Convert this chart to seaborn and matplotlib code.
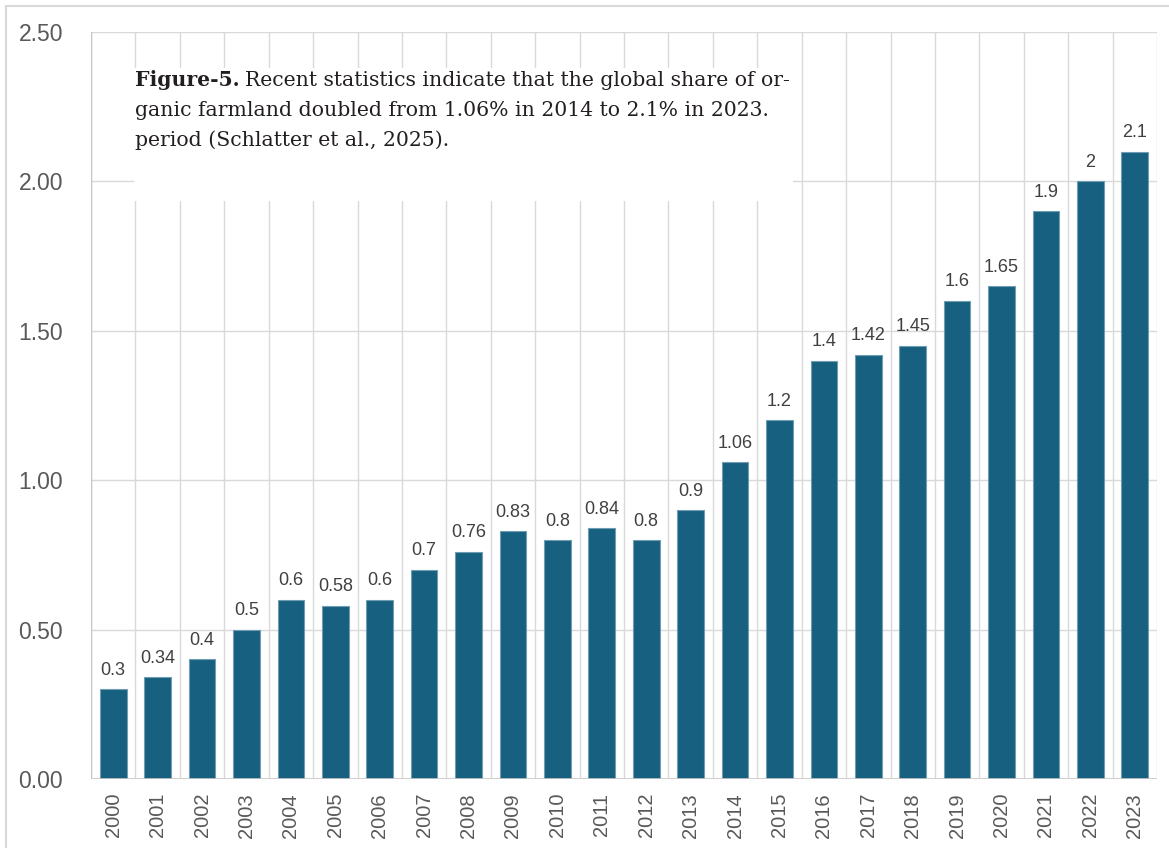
import matplotlib
matplotlib.use("Agg")
import matplotlib.pyplot as plt
import seaborn as sns
import pandas as pd
from matplotlib.lines import Line2D
from matplotlib.patches import Rectangle

years = [str(y) for y in range(2000, 2024)]
values = [0.3, 0.34, 0.4, 0.5, 0.6, 0.58, 0.6, 0.7, 0.76, 0.83, 0.8, 0.84,
          0.8, 0.9, 1.06, 1.2, 1.4, 1.42, 1.45, 1.6, 1.65, 1.9, 2.0, 2.1]
labels = ["0.3", "0.34", "0.4", "0.5", "0.6", "0.58", "0.6", "0.7", "0.76", "0.83",
          "0.8", "0.84", "0.8", "0.9", "1.06", "1.2", "1.4", "1.42", "1.45", "1.6",
          "1.65", "1.9", "2", "2.1"]
yticks = [0.0, 0.5, 1.0, 1.5, 2.0, 2.5]

df = pd.DataFrame({"year": years, "value": values})

sns.set_theme(style="white")
plt.rcParams['font.family'] = ['Liberation Sans', 'DejaVu Sans']

W, H = 1169, 848
fig = plt.figure(figsize=(W / 100, H / 100), dpi=100)
ax = fig.add_axes([91 / W, 1 - 779 / H, (1157 - 91) / W, (779 - 32) / H])

sns.barplot(data=df, x="year", y="value", color="#17607f", saturation=1,
            width=0.6, ax=ax, edgecolor="#6f9db3", linewidth=0.8, zorder=3)

ax.set_ylim(0, 2.5)
ax.set_xlim(-0.5, len(years) - 0.5)
ax.set_yticks(yticks)
ax.set_yticklabels([f"{t:.2f}" for t in yticks], fontsize=16.5, color="#595959")
ax.tick_params(axis="x", labelrotation=90, labelsize=14.5, labelcolor="#595959", length=0, pad=10)
ax.tick_params(axis="y", length=0, pad=20)
ax.set_xlabel("")
ax.set_ylabel("")

# grid
for t in yticks:
    ax.axhline(t, color="#d9d9d9", lw=1.0, zorder=0)
for i in range(len(years) + 1):
    ax.axvline(i - 0.5, color="#d9d9d9", lw=1.0, zorder=0)
for s in ax.spines.values():
    s.set_visible(False)
ax.axhline(0, color="#c8c8c8", lw=1.2, zorder=4)
ax.axvline(-0.5, color="#c8c8c8", lw=1.0, zorder=4)

for i, (v, l) in enumerate(zip(values, labels)):
    ax.text(i, v + 0.035, l, ha="center", va="bottom", fontsize=13, color="#404040", zorder=5)

# white caption box
fig.patches.append(Rectangle((134 / W, 1 - 201 / H), (793 - 134) / W, (201 - 68) / H,
                             transform=fig.transFigure, facecolor="white", edgecolor="none", zorder=5))
serif = ['DejaVu Serif']
fs = 14.7
lines_txt = [
    "Recent statistics indicate that the global share of or-",
    "ganic farmland doubled from 1.06% in 2014 to 2.1% in 2023.",
    "period (Schlatter et al., 2025).",
]
x0 = 135 / W
ys = [80, 110, 140]
t0 = fig.text(x0, 1 - ys[0] / H, "Figure-5.", fontsize=fs, fontweight="bold",
              family=serif, color="#231f20", va="center", ha="left", zorder=6)
fig.canvas.draw()
bb = t0.get_window_extent()
fig.text(bb.x1 / W + 5 / W, 1 - ys[0] / H, lines_txt[0], fontsize=fs, family=serif,
         color="#231f20", va="center", ha="left", zorder=6)
for y, s in zip(ys[1:], lines_txt[1:]):
    fig.text(x0, 1 - y / H, s, fontsize=fs, family=serif, color="#231f20",
             va="center", ha="left", zorder=6)

# outer frame
fig.add_artist(Line2D([6 / W, 6 / W], [0, 1 - 6 / H], color="#d9d9d9", lw=1.5, transform=fig.transFigure))
fig.add_artist(Line2D([6 / W, 1], [1 - 6 / H, 1 - 6 / H], color="#d9d9d9", lw=1.5, transform=fig.transFigure))

fig.savefig("out.png", dpi=100)
